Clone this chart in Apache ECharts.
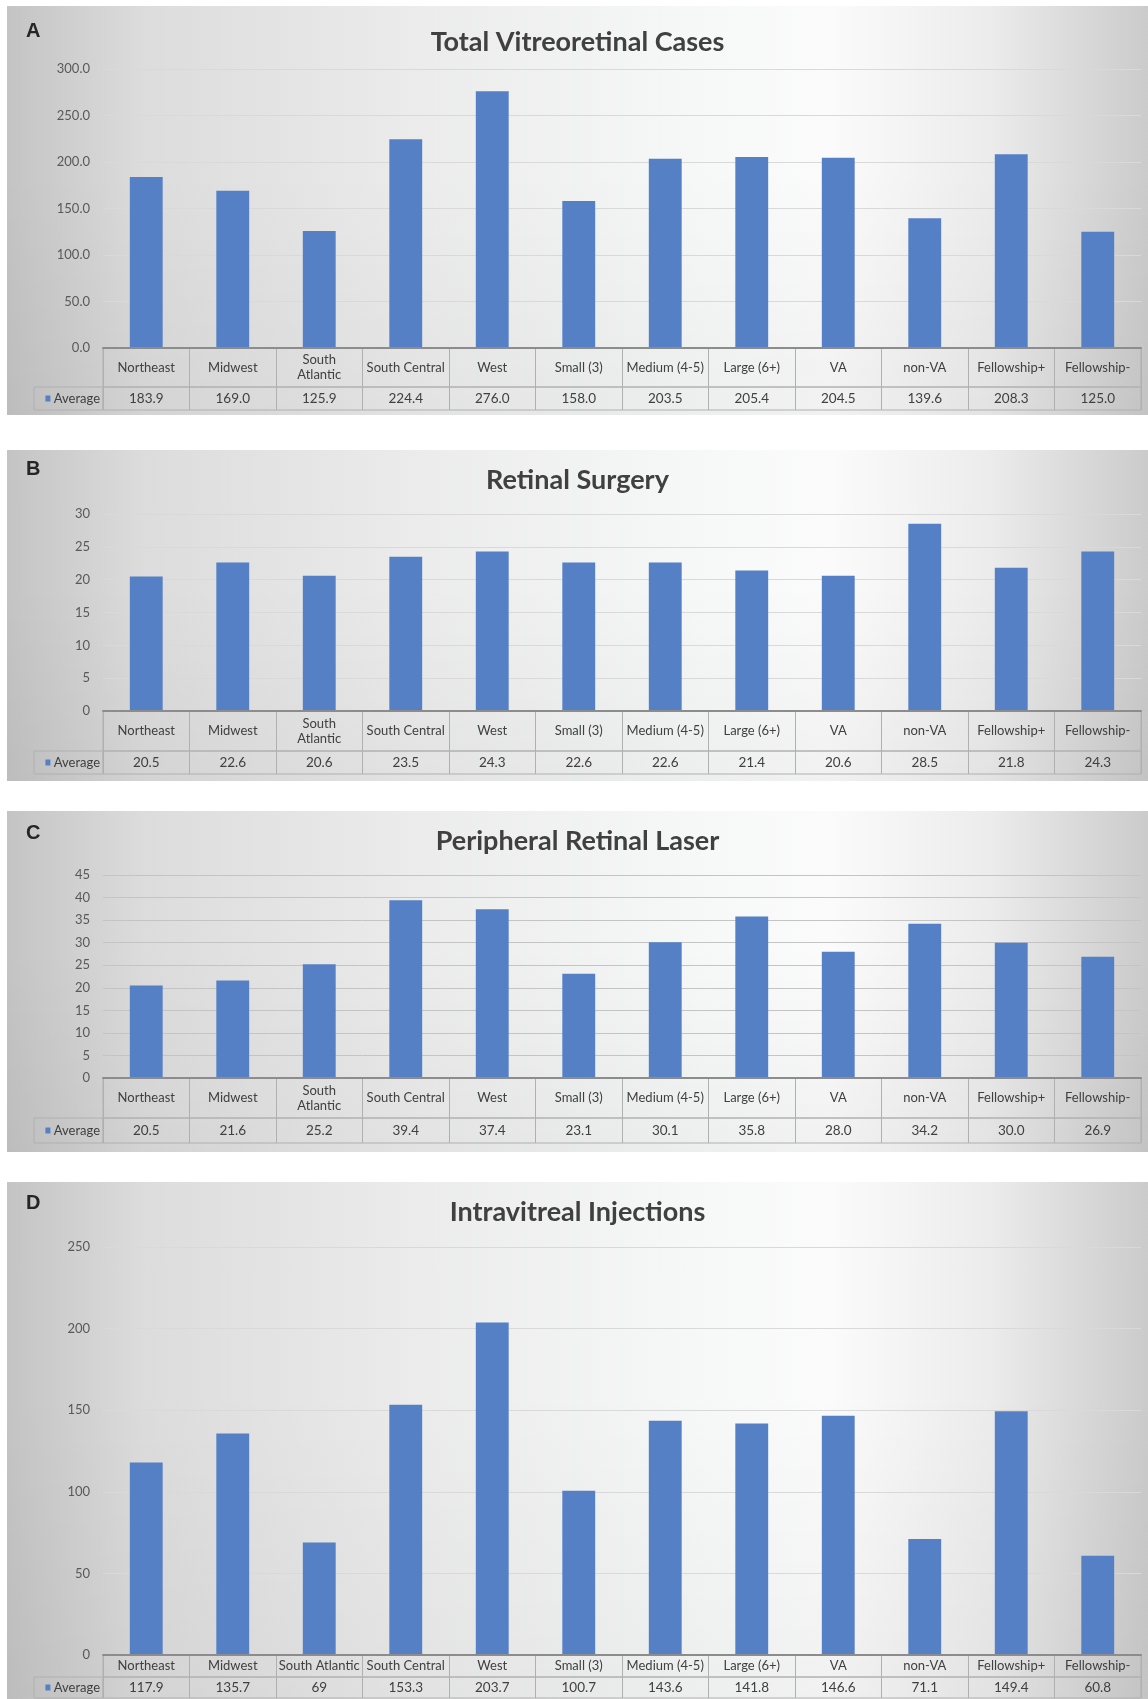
<!doctype html>
<html>
<head>
<meta charset="utf-8">
<title>index</title>
<script src="https://cdn.jsdelivr.net/npm/echarts@6/dist/echarts.min.js"></script>
<style>
  body { margin: 0; background: #fff; width: 1148px; height: 1699px; position: relative; overflow: hidden; }
  .panel {
    position: absolute; left: 7px; width: 1141px;
    background:
      linear-gradient(to bottom, rgba(0,0,0,0) 40%, rgba(0,0,0,0.04) 100%),
      linear-gradient(to right, #c4c4c4 0%, #dcdcdc 12%, #ebebeb 35%, #f7f8f8 62%, #fbfbfb 72%, #ececec 86%, #cbcbcb 100%);
  }
</style>
</head>
<body>
<div class="panel" id="pA" style="top:6px;height:409px"></div>
<div class="panel" id="pB" style="top:450px;height:331px"></div>
<div class="panel" id="pC" style="top:811px;height:341px"></div>
<div class="panel" id="pD" style="top:1182px;height:517px"></div>
<script>
  // categories shared by all four charts
  var categories = ['Northeast', 'Midwest', 'South Atlantic', 'South Central', 'West', 'Small (3)',
    'Medium (4-5)', 'Large (6+)', 'VA', 'non-VA', 'Fellowship+', 'Fellowship-'];

  // Average per category
  var totalCases = [183.9, 169.0, 125.9, 224.4, 276.0, 158.0, 203.5, 205.4, 204.5, 139.6, 208.3, 125.0];
  var retinalSurgery = [20.5, 22.6, 20.6, 23.5, 24.3, 22.6, 22.6, 21.4, 20.6, 28.5, 21.8, 24.3];
  var retinalLaser = [20.5, 21.6, 25.2, 39.4, 37.4, 23.1, 30.1, 35.8, 28.0, 34.2, 30.0, 26.9];
  var injections = [117.9, 135.7, 69, 153.3, 203.7, 100.7, 143.6, 141.8, 146.6, 71.1, 149.4, 60.8];

  // y axis ticks
  var ticksA = [0, 50, 100, 150, 200, 250, 300];
  var ticksB = [0, 5, 10, 15, 20, 25, 30];
  var ticksC = [0, 5, 10, 15, 20, 25, 30, 35, 40, 45];
  var ticksD = [0, 50, 100, 150, 200, 250];

  var barColor = '#5580c6';
  var lineColor = '#b0b0b0';
  var font = 'Lato, "Open Sans", sans-serif';

  function drawPanel(id, cfg, values, ticks) {
    var chart = echarts.init(document.getElementById(id));
    var rowCat = cfg.divider - cfg.axisY;
    var rowAvg = cfg.bottom - cfg.divider;
    var catLabels = categories.map(function (c) {
      return cfg.wrap ? c.replace('South Atlantic', 'South\nAtlantic') : c;
    });
    var valLabels = values.map(function (v) {
      return cfg.decimals == null ? String(v) : v.toFixed(cfg.decimals);
    });
    chart.setOption({
      animation: false,
      textStyle: { fontFamily: font },
      title: [
        { text: cfg.title, left: 'center', top: cfg.titleTop,
          textStyle: { fontFamily: font, fontSize: 27, fontWeight: 'bold', color: '#404040' } },
        { text: cfg.letter, left: 14, top: cfg.letterTop,
          textStyle: { fontFamily: 'Liberation Sans, Arial, sans-serif', fontSize: 20, fontWeight: 'bold', color: '#262626' } }
      ],
      grid: [
        { left: 96, right: 7, top: cfg.plotTop, height: cfg.axisY - cfg.plotTop },
        { left: 96, right: 7, top: cfg.axisY, height: rowCat, show: true, borderColor: lineColor, borderWidth: 1 },
        { left: 96, right: 7, top: cfg.divider, height: rowAvg, show: true, borderColor: lineColor, borderWidth: 1 }
      ],
      xAxis: [
        { gridIndex: 0, type: 'category', data: categories, z: 5,
          axisLabel: { show: false }, axisTick: { show: false },
          axisLine: { lineStyle: { color: '#8c8c8c', width: 2 } } },
        { gridIndex: 1, type: 'category', data: catLabels,
          axisTick: { show: false }, axisLine: { show: false },
          splitLine: { show: true, lineStyle: { color: lineColor } },
          axisLabel: { inside: true, interval: 0, margin: rowCat / 2, verticalAlign: 'middle',
            fontSize: 13, lineHeight: 15, color: '#404040' } },
        { gridIndex: 2, type: 'category', data: valLabels,
          axisTick: { show: false }, axisLine: { show: false },
          splitLine: { show: true, lineStyle: { color: lineColor } },
          axisLabel: { inside: true, interval: 0, margin: rowAvg / 2, verticalAlign: 'middle',
            fontSize: 13.5, color: '#404040' } }
      ],
      yAxis: [
        { gridIndex: 0, type: 'value', min: ticks[0], max: ticks[ticks.length - 1], interval: ticks[1] - ticks[0],
          axisLine: { show: false }, axisTick: { show: false },
          splitLine: { lineStyle: { color: cfg.gridColor } },
          axisLabel: { margin: 13, fontSize: 13, color: '#595959',
            formatter: function (v) { return cfg.yDecimals ? v.toFixed(cfg.yDecimals) : String(v); } } },
        { gridIndex: 1, type: 'value', show: false },
        { gridIndex: 2, type: 'category', data: ['Average'],
          axisLine: { show: false }, axisTick: { show: false },
          axisLabel: {
            margin: 0, align: 'right', width: 66, padding: [0, 3, 0, 0],
            borderColor: lineColor, borderWidth: 1,
            formatter: '{sq|}{t| Average}',
            rich: {
              sq: { width: 5, height: 6, backgroundColor: barColor, lineHeight: rowAvg },
              t: { fontSize: 13, color: '#404040', lineHeight: rowAvg }
            }
          } }
      ],
      series: [{
        type: 'bar', xAxisIndex: 0, yAxisIndex: 0, data: values,
        barWidth: '38%', itemStyle: { color: barColor }
      }]
    });
  }

  drawPanel('pA', { title: 'Total Vitreoretinal Cases', letter: 'A', titleTop: 18, letterTop: 10,
    plotTop: 63, axisY: 342, divider: 381, bottom: 404, decimals: 1, yDecimals: 1, wrap: true, gridColor: '#d9d9d9' },
    totalCases, ticksA);
  drawPanel('pB', { title: 'Retinal Surgery', letter: 'B', titleTop: 12, letterTop: 4,
    plotTop: 64, axisY: 261, divider: 301, bottom: 324, decimals: 1, wrap: true, gridColor: '#d9d9d9' },
    retinalSurgery, ticksB);
  drawPanel('pC', { title: 'Peripheral Retinal Laser', letter: 'C', titleTop: 12, letterTop: 7,
    plotTop: 64, axisY: 267, divider: 307, bottom: 332, decimals: 1, wrap: true, gridColor: '#c4c4c4' },
    retinalLaser, ticksC);
  drawPanel('pD', { title: 'Intravitreal Injections', letter: 'D', titleTop: 12, letterTop: 6,
    plotTop: 65, axisY: 473, divider: 495, bottom: 516, decimals: null, wrap: false, gridColor: '#d9d9d9' },
    injections, ticksD);
</script>
</body>
</html>
